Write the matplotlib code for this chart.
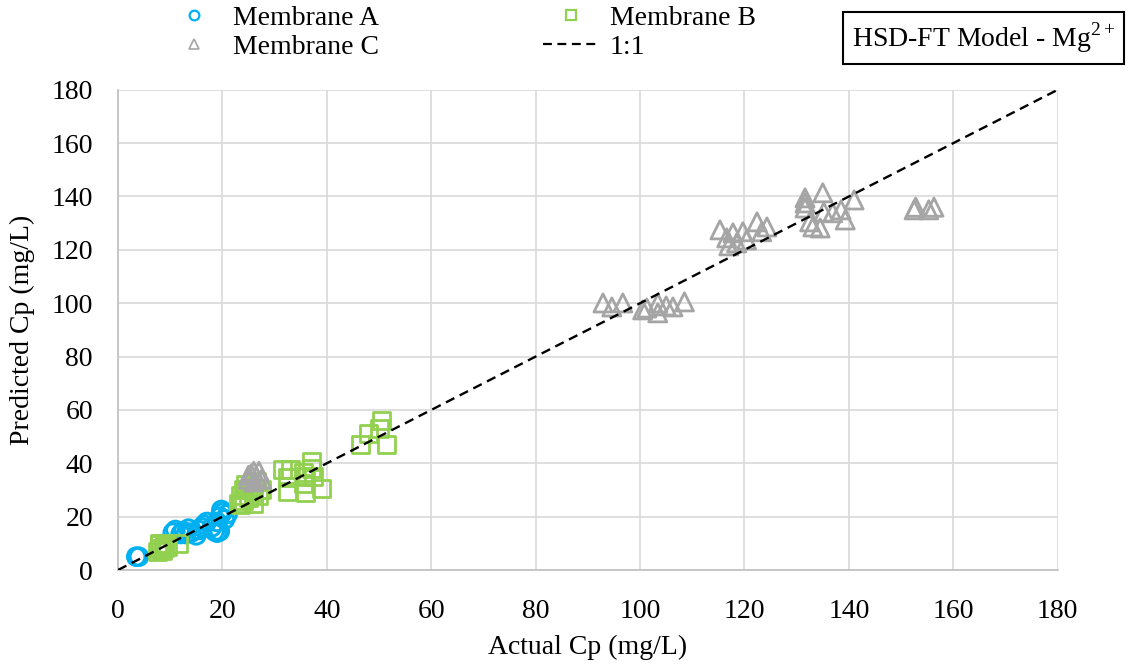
import matplotlib.pyplot as plt
from matplotlib.lines import Line2D

plt.rcParams['font.family'] = ['Liberation Serif', 'DejaVu Serif']
plt.rcParams['mathtext.fontset'] = 'custom'
plt.rcParams['mathtext.rm'] = 'Liberation Serif'

# Membrane A (actual, predicted)
a_x = [3.5, 4.0, 10.5, 11.0, 12.0, 12.5, 13.0, 13.5, 14.0, 15.0, 15.5, 16.0,
       16.5, 17.0, 18.0, 18.5, 19.0, 19.0, 19.5, 19.5, 20.0, 20.5, 21.0, 19.8]
a_y = [5.0, 5.0, 14.0, 15.0, 13.5, 14.5, 13.5, 15.5, 14.0, 13.0, 15.0, 16.0,
       17.0, 18.0, 16.0, 14.5, 14.0, 18.0, 20.0, 14.5, 21.5, 19.0, 21.0, 22.5]

# Membrane B
b_x = [7.5, 8.0, 8.0, 8.5, 9.0, 9.0, 9.5, 8.0, 11.5,
       23.0, 23.5, 24.0, 24.0, 25.0, 25.5, 26.0, 26.0, 26.5, 27.0, 27.5, 24.5, 23.5,
       31.5, 33.0, 32.5, 32.5, 35.5, 36.0, 37.0, 37.5, 39.0, 37.0, 35.5, 36.0,
       46.5, 48.0, 50.0, 50.5, 51.5]
b_y = [7.0, 8.0, 9.5, 7.5, 8.5, 10.0, 9.0, 10.0, 10.0,
       25.0, 28.0, 30.0, 26.0, 27.0, 31.0, 25.0, 29.0, 33.0, 28.0, 30.0, 32.0, 24.5,
       37.5, 37.5, 34.5, 29.5, 32.5, 29.0, 40.5, 35.0, 30.5, 38.0, 36.5, 35.0,
       47.0, 51.0, 53.0, 56.0, 47.0]

# Membrane C
c_x = [25.0, 25.5, 26.0, 26.5, 27.0, 27.5, 26.0, 25.0,
       92.9, 94.6, 96.7, 101.3, 103.4, 103.4, 106.3, 108.5, 100.5, 105.0,
       115.3, 116.6, 117.8, 118.5, 119.7, 120.4, 122.4, 123.3, 124.3, 117.0,
       131.6, 131.6, 131.6, 135.0, 135.2, 132.5, 133.1, 134.5, 136.9, 138.5,
       139.3, 141.0,
       152.5, 152.8, 155.3, 156.3]
c_y = [34.0, 36.0, 33.0, 35.0, 37.0, 34.0, 37.0, 35.5,
       100.1, 98.6, 100.1, 98.2, 100.1, 96.4, 98.6, 100.5, 97.5, 99.0,
       127.5, 124.5, 126.4, 122.6, 126.8, 123.7, 130.5, 126.8, 128.6, 121.5,
       139.5, 137.6, 135.7, 141.4, 134.2, 130.5, 128.6, 128.2, 133.9, 135.0,
       131.2, 138.7,
       135.0, 136.0, 135.0, 136.0]

one_to_one = [0, 180]

blue = '#00B0F0'
green = '#92D050'
gray = '#A5A5A5'

fig = plt.figure(figsize=(11.41, 6.67), dpi=100)
ax = fig.add_axes([0.1034, 0.1454, 0.8236, 0.72])

ax.scatter(a_x, a_y, s=160, facecolors='none', edgecolors=blue, linewidths=2.2, marker='o', zorder=3)
ax.scatter(b_x, b_y, s=150, facecolors='none', edgecolors=green, linewidths=2.0, marker='s', zorder=3)
ax.scatter(c_x, c_y, s=170, facecolors='none', edgecolors=gray, linewidths=2.0, marker='^', zorder=3)
ax.plot(one_to_one, one_to_one, color='black', linestyle=(0, (4, 2.5)), linewidth=1.7, zorder=4)

ax.set_xlim(0, 180)
ax.set_ylim(0, 180)
ax.set_xticks(range(0, 181, 20))
ax.set_yticks(range(0, 181, 20))
ax.grid(True, color='#d9d9d9', linewidth=1.2)
ax.set_axisbelow(True)
for s in ['top', 'right']:
    ax.spines[s].set_visible(False)
for s in ['left', 'bottom']:
    ax.spines[s].set_color('#bfbfbf')
    ax.spines[s].set_linewidth(1.2)
ax.tick_params(length=0, labelsize=20, pad=18)
ax.tick_params(axis='x', pad=21)

ax.set_xlabel('Actual Cp (mg/L)', fontsize=20, labelpad=8)
ax.set_ylabel('Predicted Cp (mg/L)', fontsize=20, labelpad=12)

# legend above the plot
handles = [
    Line2D([], [], marker='o', linestyle='none', markerfacecolor='none', markeredgecolor=blue, markersize=7, markeredgewidth=1.6),
    Line2D([], [], marker='^', linestyle='none', markerfacecolor='none', markeredgecolor=gray, markersize=7, markeredgewidth=1.2),
    Line2D([], [], marker='s', linestyle='none', markerfacecolor='none', markeredgecolor=green, markersize=7, markeredgewidth=1.6),
    Line2D([], [], color='black', linestyle=(0, (4, 2.5)), linewidth=1.6),
]
labels = ['Membrane A', 'Membrane C', 'Membrane B', '1:1']
fig.legend(handles, labels, ncol=2, loc='center', bbox_to_anchor=(0.404, 0.951),
           frameon=False, fontsize=20, handlelength=2, handletextpad=0.4,
           columnspacing=5.9, labelspacing=0.15, borderpad=0)

fig.text(0.862, 0.943, 'HSD-FT Model - Mg$^{2+}$', fontsize=20, ha='center', va='center',
         bbox=dict(boxstyle='square,pad=0.32', facecolor='white', edgecolor='black', linewidth=1.5))

fig.savefig('out.png', dpi=100)
